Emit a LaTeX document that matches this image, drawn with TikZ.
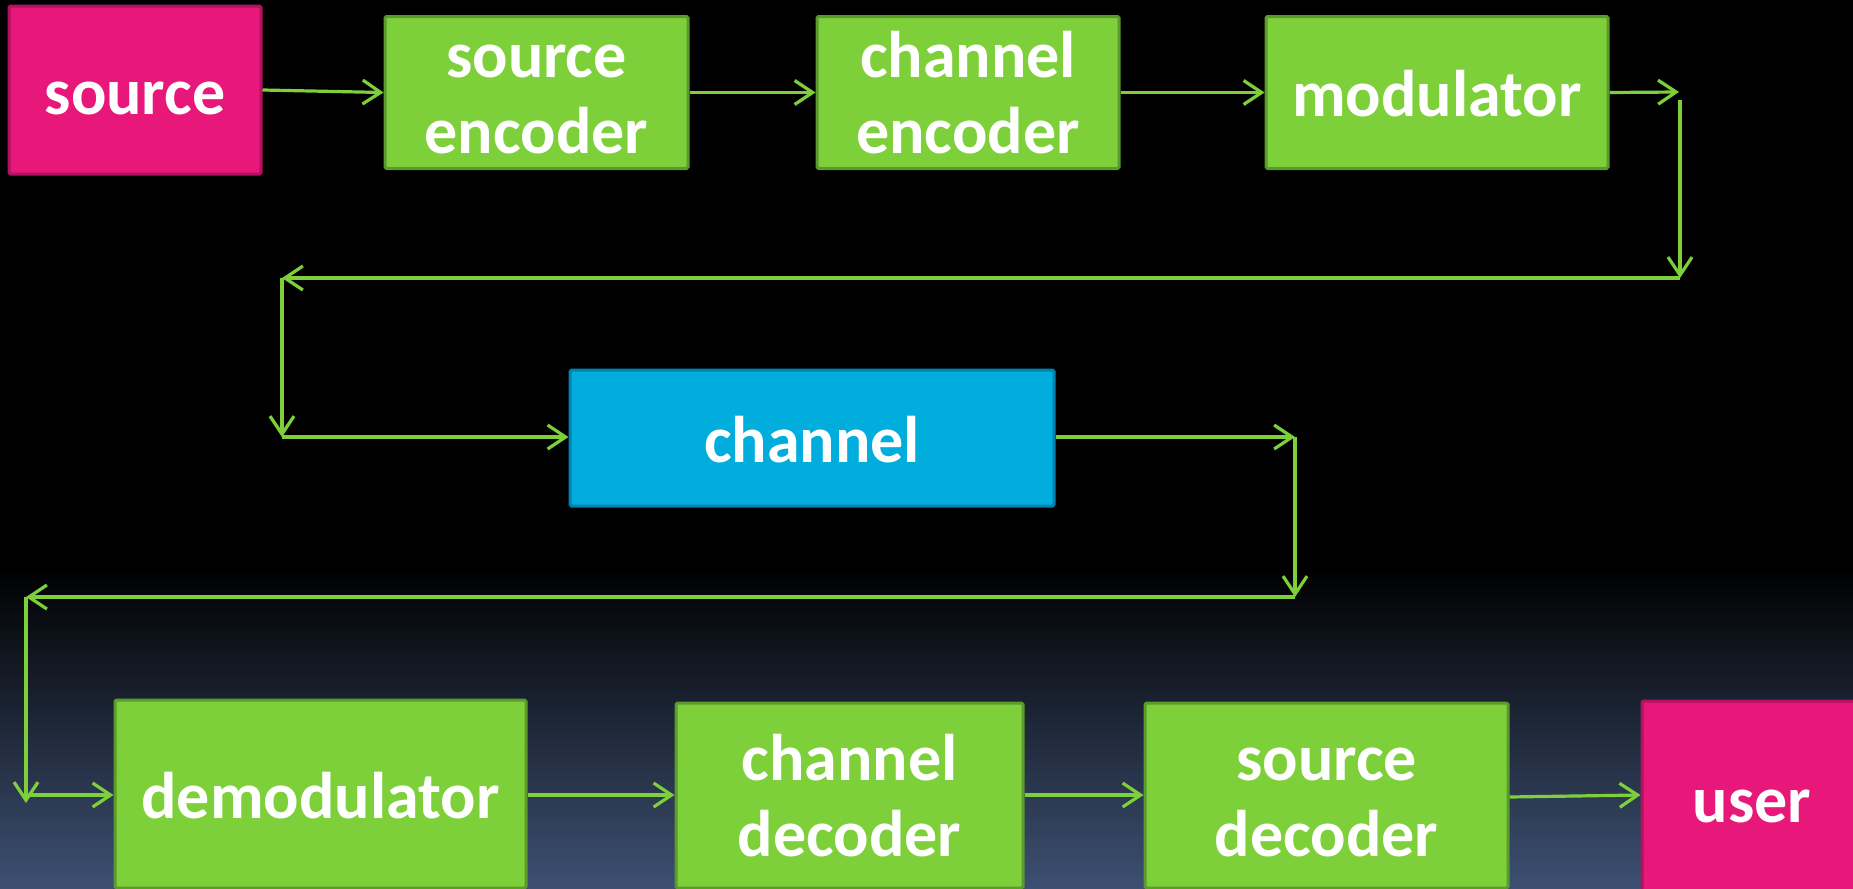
\documentclass[tikz,border=0pt]{standalone}
\usepackage{fontspec}
\setmainfont{Carlito}
\usetikzlibrary{arrows.meta}
\definecolor{gfill}{HTML}{7ED03B}
\definecolor{gdraw}{HTML}{5B9A2C}
\definecolor{pfill}{HTML}{E8177A}
\definecolor{pdraw}{HTML}{B21260}
\definecolor{bfill}{HTML}{00ADDC}
\definecolor{bdraw}{HTML}{0083B0}
\definecolor{bgbot}{HTML}{3D5072}
\tikzset{
  box/.style={draw, line width=3pt, rounded corners=1.5pt, text=white, align=center,
    inner sep=0pt, text height=65pt, text depth=17pt,
    font=\fontsize{66}{76}\selectfont\bfseries},
  twoline/.style={text height=134pt, text depth=12pt},
  gbox/.style={box, fill=gfill, draw=gdraw},
  pbox/.style={box, fill=pfill, draw=pdraw},
  bbox/.style={box, fill=bfill, draw=bdraw},
  conn/.style={draw=gfill, line width=3.2pt, -{Straight Barb[length=18pt,width=24pt]}},
}
\begin{document}
\begin{tikzpicture}[x=1pt,y=-1pt]
\fill[black] (0,0) rectangle (1853,567);
\shade[top color=black, bottom color=bgbot] (0,567) rectangle (1853,889);
\useasboundingbox (0,0) rectangle (1853,889);
% top row
\node[pbox, minimum width=252pt, minimum height=168pt] (src) at (135,90) {source};
\node[gbox, twoline, minimum width=303pt, minimum height=152pt] (senc) at (536.5,92.5) {source\\encoder};
\node[gbox, twoline, minimum width=302pt, minimum height=152pt] (cenc) at (968,92.5) {channel\\encoder};
\node[gbox, minimum width=342pt, minimum height=152pt] (mod) at (1437,92.5) {modulator};
% channel
\node[bbox, minimum width=484pt, minimum height=136pt] (chan) at (812,438) {channel};
% bottom row
\node[gbox, minimum width=411pt, minimum height=188pt] (demod) at (320.5,794) {demodulator};
\node[gbox, twoline, minimum width=347pt, minimum height=185pt] (cdec) at (849.5,795.5) {channel\\decoder};
\node[gbox, twoline, minimum width=363pt, minimum height=185pt] (sdec) at (1326.5,795.5) {source\\decoder};
\node[pbox, minimum width=228pt, minimum height=194pt] (user) at (1756,798) {\hspace*{-8pt}user};
% coordinates
\coordinate (c1) at (1679,92);
\coordinate (c1b) at (1680,100);
\coordinate (c2) at (1680,278);
\coordinate (c3) at (282,278);
\coordinate (c4) at (282,437);
\coordinate (c5) at (1295,437);
\coordinate (c6) at (1295,597);
\coordinate (c7) at (26,597);
\coordinate (c8) at (26,803);
\coordinate (c8b) at (30,795);
% connectors
\draw[conn] (src.east |- 0,90) -- (senc.west);
\draw[conn] (senc.east) -- (cenc.west);
\draw[conn] (cenc.east) -- (mod.west);
\draw[conn] (mod.east) -- (c1);
\draw[conn] (c1b) -- (c2);
\draw[conn] (c2) -- (c3);
\draw[conn] (c3) -- (c4);
\draw[conn] (c4) -- (chan.west |- c4);
\draw[conn] (chan.east |- c5) -- (c5);
\draw[conn] (c5) -- (c6);
\draw[conn] (c6) -- (c7);
\draw[conn] (c7) -- (c8);
\draw[conn] (c8b) -- (demod.west |- c8b);
\draw[conn] (demod.east |- c8b) -- (cdec.west |- c8b);
\draw[conn] (cdec.east |- c8b) -- (sdec.west |- c8b);
\draw[conn] (sdec.east |- 0,797) -- (user.west |- 0,795);
\end{tikzpicture}
\end{document}
